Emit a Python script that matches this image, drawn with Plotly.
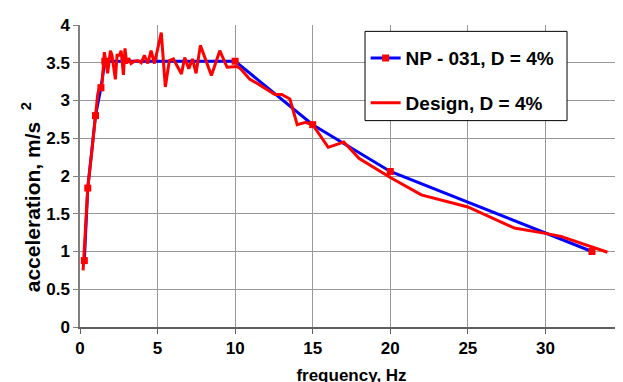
import plotly.graph_objects as go

# NP - 031, D = 4%
np031_freq = [0.28, 0.5, 1.0, 1.35, 1.6, 10.0, 15.0, 20.0, 33.0]
np031_acc = [0.88, 1.84, 2.8, 3.17, 3.52, 3.52, 2.68, 2.06, 1.0]

# Design, D = 4%
design_freq = [0.2, 0.5, 0.75, 0.9, 1.0, 1.14, 1.25, 1.4, 1.57, 1.78, 1.96, 2.06,
               2.28, 2.39, 2.54, 2.65, 2.8, 2.9, 3.01, 3.14, 3.29, 3.5, 3.72, 3.95,
               4.15, 4.37, 4.58, 4.8, 5.24, 5.5, 5.76, 6.02, 6.54, 6.75, 7.01, 7.25,
               7.48, 7.76, 8.47, 9.01, 9.48, 10.1, 10.3, 10.95, 11.48, 12.05, 12.56,
               13.0, 13.53, 14.0, 14.55, 15.03, 16.0, 17.0, 18.0, 20.0, 22.0, 25.0,
               28.0, 30.0, 31.0, 34.0]
design_acc = [0.75, 1.84, 2.3, 2.62, 2.82, 3.08, 3.17, 3.15, 3.64, 3.36, 3.66, 3.6,
              3.28, 3.6, 3.6, 3.66, 3.34, 3.69, 3.49, 3.56, 3.49, 3.52, 3.53, 3.5,
              3.6, 3.49, 3.66, 3.49, 3.9, 3.18, 3.53, 3.55, 3.35, 3.57, 3.42, 3.55,
              3.36, 3.73, 3.33, 3.66, 3.44, 3.45, 3.43, 3.28, 3.22, 3.15, 3.08,
              3.08, 3.02, 2.68, 2.71, 2.67, 2.38, 2.45, 2.23, 1.98, 1.75, 1.59,
              1.31, 1.24, 1.2, 0.99]

x_ticks = [0, 5, 10, 15, 20, 25, 30, 35]
y_ticks = [0, 0.5, 1, 1.5, 2, 2.5, 3, 3.5, 4]

FONT = "Arial, Liberation Sans, sans-serif"

fig = go.Figure()
fig.add_trace(go.Scatter(
    x=np031_freq, y=np031_acc, mode="lines+markers",
    name="NP - 031, D = 4%", legendgroup="a",
    line=dict(color="#0000FF", width=3),
    marker=dict(symbol="square", color="#FF0000", size=7),
))
fig.add_trace(go.Scatter(
    x=design_freq, y=design_acc, mode="lines",
    name="Design, D = 4%", legendgroup="b",
    line=dict(color="#FF0000", width=3),
))

fig.update_layout(
    width=623, height=382,
    margin=dict(l=72, r=8, t=17, b=57),
    paper_bgcolor="white", plot_bgcolor="white",
    font=dict(family=FONT, color="black"),
    showlegend=True,
    legend=dict(
        x=0.526, y=0.953, xanchor="left", yanchor="top",
        bgcolor="rgba(0,0,0,0)", borderwidth=0,
        font=dict(family=FONT, size=19, color="black", weight="bold"),
        traceorder="grouped", tracegroupgap=17,
    ),
    shapes=[dict(
        type="rect", xref="paper", yref="paper",
        x0=0.5249, x1=0.8969, y0=0.6834, y1=0.9789,
        line=dict(color="black", width=1), fillcolor="white", layer="above",
    )],
    annotations=[dict(
        text="acceleration, m/s  <sup>2</sup>", textangle=-90,
        xref="paper", yref="paper", x=-0.090, y=0.43,
        xanchor="center", yanchor="middle", showarrow=False,
        font=dict(family=FONT, size=21, color="black", weight="bold"),
    )],
)

fig.update_xaxes(
    range=[0, 35], tickvals=x_ticks,
    showgrid=True, gridcolor="#999999", gridwidth=1,
    showline=True, linecolor="#606060", linewidth=2,
    ticks="outside", ticklen=5, tickcolor="#606060",
    zeroline=False,
    tickfont=dict(family=FONT, size=17, color="black", weight="bold"),
    title=dict(text="frequency, Hz", standoff=12,
               font=dict(family=FONT, size=17, color="black", weight="bold")),
)
fig.update_yaxes(
    range=[0, 4], tickvals=y_ticks,
    showgrid=True, gridcolor="#999999", gridwidth=1,
    showline=True, linecolor="#808080", linewidth=1.5,
    ticks="outside", ticklen=5, tickcolor="#808080",
    zeroline=False,
    tickfont=dict(family=FONT, size=17, color="black", weight="bold"),
)

fig.write_html("out.html")
